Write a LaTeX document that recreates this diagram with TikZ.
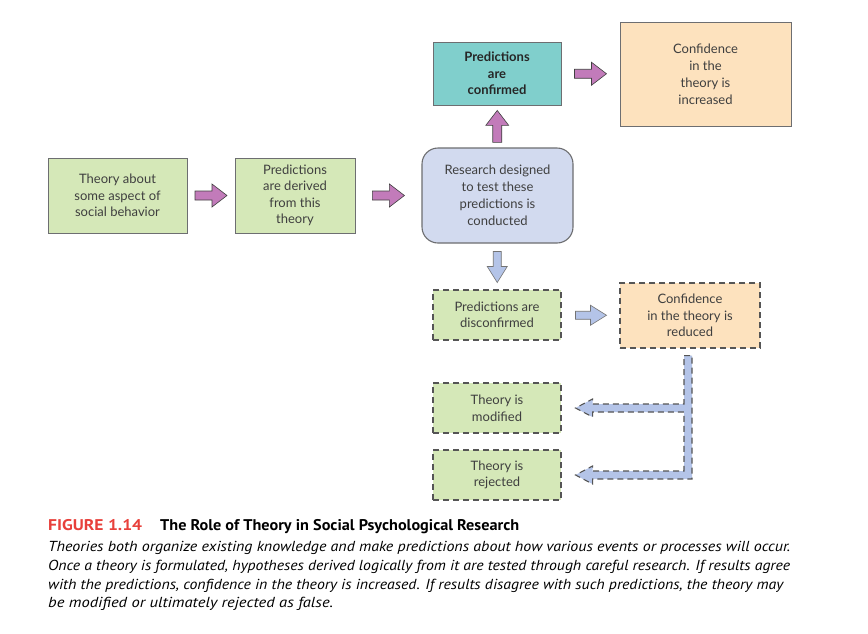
\documentclass[tikz,border=0pt]{standalone}
\usepackage{fontspec}
\setmainfont{Lato}
\newfontfamily\capfont{PT Sans}
\usetikzlibrary{calc}
\definecolor{boxgreen}{HTML}{D5E8B8}
\definecolor{boxblue}{HTML}{D2DAEF}
\definecolor{boxteal}{HTML}{80CFCC}
\definecolor{boxpeach}{HTML}{FDE2BE}
\definecolor{arrpurple}{HTML}{C27BBA}
\definecolor{arrblue}{HTML}{B4C4E8}
\definecolor{linegray}{HTML}{6D6E71}
\definecolor{dashgray}{HTML}{555555}
\definecolor{txtgray}{HTML}{3F3F3F}
\definecolor{figred}{HTML}{E8403B}
\begin{document}
\begin{tikzpicture}[x=1pt,y=-1pt,
  box/.style={draw=linegray, line width=0.8pt, inner sep=0pt, align=center,
    text=txtgray, font=\fontsize{13}{16.5}\selectfont},
  dashbox/.style={box, draw=dashgray, line width=1.1pt, dash pattern=on 6pt off 4pt},
  purparrow/.style={fill=arrpurple, draw=black!75, line width=0.6pt, line join=miter},
  bluearrow/.style={fill=arrblue, draw=black!55, line width=0.6pt},
  elbow/.style={fill=arrblue, draw=dashgray, line width=1.1pt, dash pattern=on 6pt off 4pt},
  barrow/.pic={\path[pic actions] (-16,-4.5) -- (1,-4.5) -- (1,-11.5) -- (16,0) -- (1,11.5) -- (1,4.5) -- (-16,4.5) -- cycle;},
  sarrow/.pic={\path[pic actions] (-15,-4) -- (0,-4) -- (0,-10) -- (16,0) -- (0,10) -- (0,4) -- (-15,4) -- cycle;},
  capline/.style={anchor=base west, inner sep=0pt, text=black}
]
\fill[white] (0,0) rectangle (868,633);
\useasboundingbox (0,0) rectangle (868,633);

% boxes
\node[box, fill=boxgreen, minimum width=139pt, minimum height=75pt] (t1) at (117.5,195.5)
  {Theory about\\some aspect of\\social behavior};
\node[box, fill=boxgreen, minimum width=120pt, minimum height=75pt] (t2) at (295,195.5)
  {Predictions\\are derived\\from this\\theory};
\node[box, fill=boxblue, line width=1.1pt, rounded corners=16pt, minimum width=151pt, minimum height=95pt,
  font=\fontsize{13}{17}\selectfont] (res) at (497.5,195.5)
  {Research designed\\to test these\\predictions is\\conducted};
\node[box, fill=boxteal, minimum width=128pt, minimum height=63pt, font=\bfseries\fontsize{13}{16.5}\selectfont, text=black!85] (conf) at (497,73.5)
  {Predictions\\are\\confirmed};
\node[box, fill=boxpeach, minimum width=171pt, minimum height=104pt, font=\fontsize{13}{17}\selectfont] (inc) at (705.5,74)
  {Confidence\\in the\\theory is\\increased};
\node[dashbox, fill=boxgreen, minimum width=128pt, minimum height=50pt] (dis) at (497,315)
  {Predictions are\\disconfirmed};
\node[dashbox, fill=boxpeach, minimum width=140pt, minimum height=65pt] (red) at (690,315.5)
  {Confidence\\in the theory is\\reduced};
\node[dashbox, fill=boxgreen, minimum width=128pt, minimum height=50pt] (mod) at (497,408)
  {Theory is\\modified};
\node[dashbox, fill=boxgreen, minimum width=128pt, minimum height=50pt] (rej) at (497,475)
  {Theory is\\rejected};

% purple block arrows
\pic[purparrow] at ($(t1.east)!0.5!(t2.west)$) {barrow};
\pic[purparrow] at ($(t2.east)!0.5!(res.west)$) {barrow};
\pic[purparrow] at ($(conf.east)!0.5!(inc.west)$) {barrow};
\pic[purparrow, rotate=90] at ($(res.north)!0.5!(conf.south)$) {barrow};

% blue arrows
\pic[bluearrow, rotate=-90] at ($(res.south)!0.5!(dis.north)$) {sarrow};
\pic[bluearrow] at ($(dis.east)!0.5!(red.west)$) {sarrow};

% elbow connector
\coordinate (eTL) at ($(red.south)+(-6,7)$);
\coordinate (eTR) at ($(red.south)+(2,7)$);
\coordinate (mT) at ($(mod.east)+(14,0)$);
\coordinate (rT) at ($(rej.east)+(14,0)$);
\coordinate (mA) at ($(mT)+(0,-4)$);
\coordinate (mB) at ($(mT)+(0,4)$);
\coordinate (rA) at ($(rT)+(0,-4)$);
\coordinate (rB) at ($(rT)+(0,4)$);
\draw[elbow] (eTL) -- (eTR) -- (eTR |- rB) -- ($(rT)+(17,4)$) -- ($(rT)+(17,9)$) -- (rT)
  -- ($(rT)+(17,-9)$) -- ($(rT)+(17,-4)$) -- (eTL |- rA) -- (eTL |- mB)
  -- ($(mT)+(17,4)$) -- ($(mT)+(17,9)$) -- (mT) -- ($(mT)+(17,-9)$) -- ($(mT)+(17,-4)$)
  -- (eTL |- mA) -- cycle;

% caption
\node[capline, font=\capfont\bfseries\fontsize{15.5}{17}\selectfont, text=figred] (fig) at (48,530)
  {\resizebox{94pt}{\height}{FIGURE 1.14}};
\node[capline, font=\capfont\bfseries\fontsize{15.5}{17}\selectfont] (ttl) at (160,530)
  {\resizebox{359pt}{\height}{The Role of Theory in Social Psychological Research}};
\node[capline, font=\capfont\itshape\fontsize{14.5}{16}\selectfont] (c1) at (48,551)
  {\resizebox{742pt}{\height}{Theories both organize existing knowledge and make predictions about how various events or processes will occur.}};
\node[capline, font=\capfont\itshape\fontsize{14.5}{16}\selectfont] (c2) at (48,570)
  {\resizebox{742pt}{\height}{Once a theory is formulated, hypotheses derived logically from it are tested through careful research. If results agree}};
\node[capline, font=\capfont\itshape\fontsize{14.5}{16}\selectfont] (c3) at (48,589)
  {\resizebox{735pt}{\height}{with the predictions, confidence in the theory is increased. If results disagree with such predictions, the theory may}};
\node[capline, font=\capfont\itshape\fontsize{14.5}{16}\selectfont] (c4) at (48,607)
  {\resizebox{285pt}{\height}{be modified or ultimately rejected as false.}};
\end{tikzpicture}
\end{document}
